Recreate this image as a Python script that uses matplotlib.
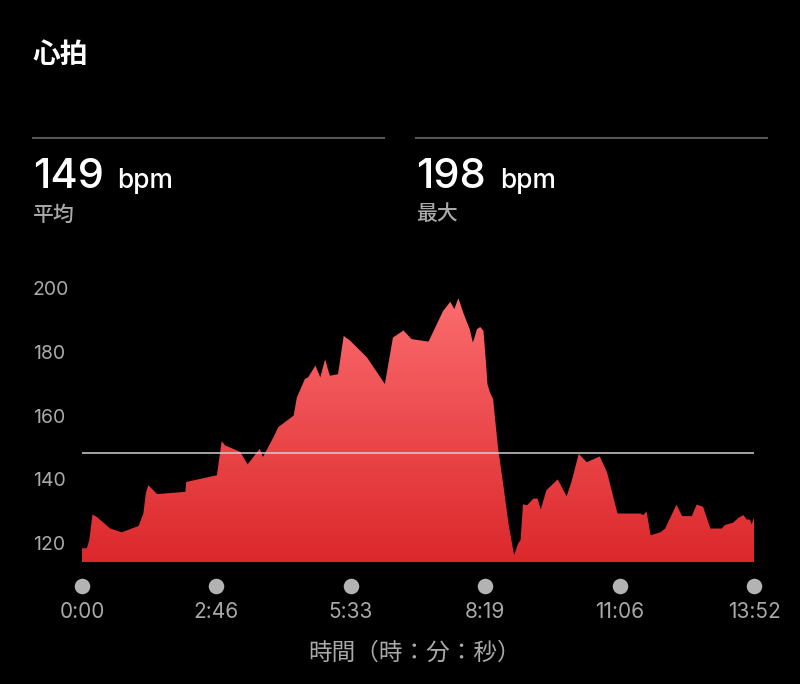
import numpy as np
import matplotlib
matplotlib.use('Agg')
import matplotlib.pyplot as plt
from matplotlib.lines import Line2D
from matplotlib.colors import LinearSegmentedColormap
from matplotlib.transforms import blended_transform_factory

# heart rate samples, seconds from start / bpm
secs = [0, 6, 9, 13, 18, 35, 49, 70, 76, 79, 82, 93, 128, 129, 167, 173, 177, 196,
        205, 220, 224, 237, 243, 262, 266, 276, 280, 289, 295, 301, 305, 307, 317,
        324, 332, 353, 375, 385, 398, 408, 429, 447, 456, 461, 466, 472, 480, 484,
        489, 493, 497, 500, 502, 505, 509, 515, 522, 528, 535, 540, 543, 546, 551,
        559, 564, 568, 575, 589, 600, 606, 615, 625, 641, 650, 663, 691, 695, 699,
        704, 716, 722, 736, 743, 755, 761, 769, 778, 792, 796, 806, 813, 819, 823,
        827, 829, 832]
bpm = [119, 119, 121.6, 129.6, 128.9, 125.2, 124, 126, 129.9, 136.2, 138.8, 136,
       136.7, 139.8, 141.9, 152.6, 151.3, 149.2, 145.3, 150.2, 147.6, 153.8, 157,
       160.6, 166.3, 172.1, 172.6, 176.3, 172.6, 178.3, 174.7, 173.1, 173.6, 185.6,
       184.1, 178.8, 170.5, 185.1, 187.3, 184.6, 183.8, 193.4, 196.3, 194, 197.4,
       192.9, 187.7, 183.5, 187.7, 188.4, 187.2, 177.8, 170.5, 167.9, 165.8, 150.7,
       138.2, 126.8, 116.9, 120.5, 121.6, 132.8, 132.5, 134.6, 134.6, 131.2, 137.2,
       140.6, 135.3, 139.8, 148.6, 146, 147.8, 142.9, 129.9, 129.9, 129.4, 130.6,
       123.1, 124, 125.2, 132.7, 129.1, 129.1, 132.7, 132, 125.2, 125.2, 126.3, 127,
       128.6, 129.4, 128, 128, 126.5, 128.6]

avg_bpm = 149
max_bpm = 198
y_ticks = [120, 140, 160, 180, 200]
x_tick_secs = [0, 166, 333, 499, 666, 832]
x_tick_labels = ['0:00', '2:46', '5:33', '8:19', '11:06', '13:52']

W, H = 800, 684
JP = ['Noto Sans CJK JP', 'DejaVu Sans']
NUM = ['Inter', 'Noto Sans CJK JP', 'DejaVu Sans']
GRAY = '#a9a9a9'


def fx(px):
    return px / W


def fy(px):
    return 1 - px / H


fig = plt.figure(figsize=(8, 6.84), dpi=100, facecolor='black')

# header
fig.text(fx(33), fy(55), '心拍', fontsize=20, fontweight='bold', color='white',
         va='center', family=JP)
for x0, x1 in [(33, 384), (416, 767)]:
    fig.add_artist(Line2D([fx(x0), fx(x1)], [fy(138), fy(138)], color='#555555', lw=1.5))

for x0, xb, val, lab in [(33, 117, avg_bpm, '平均'), (416, 500, max_bpm, '最大')]:
    fig.text(fx(x0), fy(188), str(val), fontsize=30, fontweight='medium', color='white',
             va='baseline', family=NUM)
    fig.text(fx(xb), fy(188), 'bpm', fontsize=19, fontweight='medium', color='white',
             va='baseline', family=NUM)
    fig.text(fx(x0), fy(214.5), lab, fontsize=15, fontweight='medium', color=GRAY,
             va='center', family=JP)

# chart
ymin, ymax = 114.7, 203
ax = fig.add_axes([fx(82), fy(562), fx(754) - fx(82), (562 - 280.4) / H])
ax.set_facecolor('black')
ax.set_xlim(0, 832)
ax.set_ylim(ymin, ymax)
for s in ax.spines.values():
    s.set_visible(False)
ax.set_xticks([])
ax.set_yticks([])

poly = ax.fill_between(secs, bpm, ymin, color='none', lw=0)
cmap = LinearSegmentedColormap.from_list('hr', ['#dc282c', '#fc6e70'])
grad = np.linspace(0, 1, 256).reshape(-1, 1)
im = ax.imshow(grad, extent=[0, 832, ymin, 200], origin='lower', aspect='auto', cmap=cmap,
               zorder=1)
im.set_clip_path(poly.get_paths()[0], transform=ax.transData)
ax.set_ylim(ymin, ymax)

ax.axhline(avg_bpm, color='#d0d0d0', lw=1.1, zorder=3)

# y labels on the left
ytr = blended_transform_factory(fig.transFigure, ax.transData)
for v in y_ticks:
    ax.text(fx(33), v, str(v), transform=ytr, fontsize=14, color=GRAY, ha='left',
            va='center', family=NUM)

# x ticks as dots
xtr = blended_transform_factory(ax.transData, fig.transFigure)
ax.scatter(x_tick_secs, [fy(586)] * len(x_tick_secs), s=125, color='#b3b3b3',
           transform=xtr, clip_on=False, zorder=4, lw=0)
for t, lab in zip(x_tick_secs, x_tick_labels):
    ax.text(t, fy(612), lab, transform=xtr, fontsize=15, color=GRAY, ha='center',
            va='center', family=NUM)

fig.text(fx(415), fy(653), '時間（時：分：秒）', fontsize=17, color=GRAY, ha='center',
         va='center', family=JP)

plt.savefig('out.png', dpi=100, facecolor='black')
